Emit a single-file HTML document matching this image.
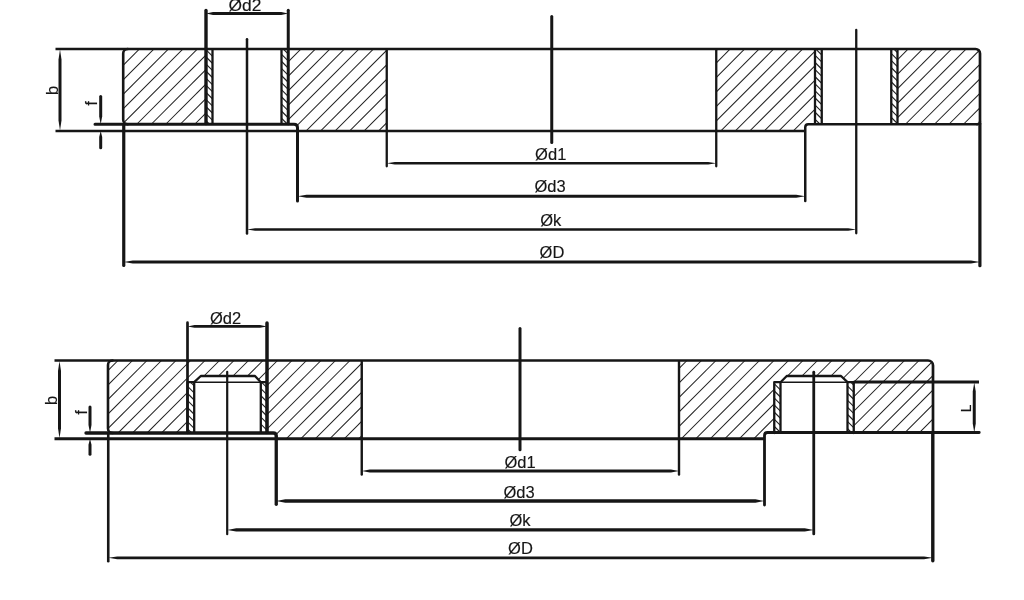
<!DOCTYPE html>
<html><head><meta charset="utf-8"><title>Flange dimensions</title>
<style>
html,body{margin:0;padding:0;background:#fff;}
body{width:1024px;height:600px;overflow:hidden;}
svg{display:block;font-family:"Liberation Sans",sans-serif;}
svg{filter:grayscale(1);}
</style></head><body>
<svg width="1024" height="600" viewBox="0 0 1024 600">
<rect width="1024" height="600" fill="#fff"/>
<defs><clipPath id="c1"><path d="M127.7,49 H205.75 V124.25 H127.7 A4.5,4.5 0 0 1 123.2,119.75 V53.5 A4.5,4.5 0 0 1 127.7,49 Z"/></clipPath><clipPath id="c2"><path d="M288.25,49 H386.75 V131 H297.5 V124.25 H288.25 Z"/></clipPath><clipPath id="c3"><path d="M716.25,49 H815 V124.25 H805.25 V131 H716.25 Z"/></clipPath><clipPath id="c4"><path d="M897.5,49 H975.5 A4.5,4.5 0 0 1 980,53.5 V121.25 A3,3 0 0 1 977,124.25 H897.5 Z"/></clipPath><clipPath id="c5"><path d="M205.75,49 H212.5 V124.25 H205.75 Z"/></clipPath><clipPath id="c6"><path d="M281.5,49 H288.25 V124.25 H281.5 Z"/></clipPath><clipPath id="c7"><path d="M815,49 H821.75 V124.25 H815 Z"/></clipPath><clipPath id="c8"><path d="M891.25,49 H897.5 V124.25 H891.25 Z"/></clipPath><clipPath id="c9"><path d="M112.5,360.5 H361.75 V438.75 H276.25 V433 H112.5 A4.5,4.5 0 0 1 108,428.5 V365.0 A4.5,4.5 0 0 1 112.5,360.5 Z M187.5,433 V382.2 H194.2 L200.8,376 H255 L260.8,382.2 H267 V433 Z" clip-rule="evenodd"/></clipPath><clipPath id="c10"><path d="M679,360.5 H928 A5,5 0 0 1 933,365.5 V433 H764.5 V438.75 H679 Z M774.25,433 V382.2 H780.5 L786.75,376 H841 L847.5,382.2 H853.75 V433 Z" clip-rule="evenodd"/></clipPath><clipPath id="c11"><path d="M187.5,382.2 H194.2 V433 H187.5 Z"/></clipPath><clipPath id="c12"><path d="M260.8,382.2 H267 V433 H260.8 Z"/></clipPath><clipPath id="c13"><path d="M774.25,382.2 H780.5 V433 H774.25 Z"/></clipPath><clipPath id="c14"><path d="M847.5,382.2 H853.75 V433 H847.5 Z"/></clipPath></defs>
<g clip-path="url(#c1)" stroke="#1e1e1c" stroke-width="1.05"><line x1="110.50" y1="49" x2="35.25" y2="124.25"/><line x1="125.00" y1="49" x2="49.75" y2="124.25"/><line x1="139.50" y1="49" x2="64.25" y2="124.25"/><line x1="154.00" y1="49" x2="78.75" y2="124.25"/><line x1="168.50" y1="49" x2="93.25" y2="124.25"/><line x1="183.00" y1="49" x2="107.75" y2="124.25"/><line x1="197.50" y1="49" x2="122.25" y2="124.25"/><line x1="212.00" y1="49" x2="136.75" y2="124.25"/><line x1="226.50" y1="49" x2="151.25" y2="124.25"/><line x1="241.00" y1="49" x2="165.75" y2="124.25"/><line x1="255.50" y1="49" x2="180.25" y2="124.25"/><line x1="270.00" y1="49" x2="194.75" y2="124.25"/><line x1="284.50" y1="49" x2="209.25" y2="124.25"/></g>
<g clip-path="url(#c2)" stroke="#1e1e1c" stroke-width="1.05"><line x1="286.50" y1="49" x2="204.50" y2="131"/><line x1="301.00" y1="49" x2="219.00" y2="131"/><line x1="315.50" y1="49" x2="233.50" y2="131"/><line x1="330.00" y1="49" x2="248.00" y2="131"/><line x1="344.50" y1="49" x2="262.50" y2="131"/><line x1="359.00" y1="49" x2="277.00" y2="131"/><line x1="373.50" y1="49" x2="291.50" y2="131"/><line x1="388.00" y1="49" x2="306.00" y2="131"/><line x1="402.50" y1="49" x2="320.50" y2="131"/><line x1="417.00" y1="49" x2="335.00" y2="131"/><line x1="431.50" y1="49" x2="349.50" y2="131"/><line x1="446.00" y1="49" x2="364.00" y2="131"/><line x1="460.50" y1="49" x2="378.50" y2="131"/><line x1="475.00" y1="49" x2="393.00" y2="131"/></g>
<g clip-path="url(#c3)" stroke="#1e1e1c" stroke-width="1.05"><line x1="715.70" y1="49" x2="633.70" y2="131"/><line x1="730.20" y1="49" x2="648.20" y2="131"/><line x1="744.70" y1="49" x2="662.70" y2="131"/><line x1="759.20" y1="49" x2="677.20" y2="131"/><line x1="773.70" y1="49" x2="691.70" y2="131"/><line x1="788.20" y1="49" x2="706.20" y2="131"/><line x1="802.70" y1="49" x2="720.70" y2="131"/><line x1="817.20" y1="49" x2="735.20" y2="131"/><line x1="831.70" y1="49" x2="749.70" y2="131"/><line x1="846.20" y1="49" x2="764.20" y2="131"/><line x1="860.70" y1="49" x2="778.70" y2="131"/><line x1="875.20" y1="49" x2="793.20" y2="131"/><line x1="889.70" y1="49" x2="807.70" y2="131"/><line x1="904.20" y1="49" x2="822.20" y2="131"/></g>
<g clip-path="url(#c4)" stroke="#1e1e1c" stroke-width="1.05"><line x1="893.70" y1="49" x2="818.45" y2="124.25"/><line x1="908.20" y1="49" x2="832.95" y2="124.25"/><line x1="922.70" y1="49" x2="847.45" y2="124.25"/><line x1="937.20" y1="49" x2="861.95" y2="124.25"/><line x1="951.70" y1="49" x2="876.45" y2="124.25"/><line x1="966.20" y1="49" x2="890.95" y2="124.25"/><line x1="980.70" y1="49" x2="905.45" y2="124.25"/><line x1="995.20" y1="49" x2="919.95" y2="124.25"/><line x1="1009.70" y1="49" x2="934.45" y2="124.25"/><line x1="1024.20" y1="49" x2="948.95" y2="124.25"/><line x1="1038.70" y1="49" x2="963.45" y2="124.25"/><line x1="1053.20" y1="49" x2="977.95" y2="124.25"/><line x1="1067.70" y1="49" x2="992.45" y2="124.25"/></g>
<g clip-path="url(#c5)" stroke="#1e1e1c" stroke-width="1.1"><line x1="127.10" y1="49" x2="202.35" y2="124.25"/><line x1="134.20" y1="49" x2="209.45" y2="124.25"/><line x1="141.30" y1="49" x2="216.55" y2="124.25"/><line x1="148.40" y1="49" x2="223.65" y2="124.25"/><line x1="155.50" y1="49" x2="230.75" y2="124.25"/><line x1="162.60" y1="49" x2="237.85" y2="124.25"/><line x1="169.70" y1="49" x2="244.95" y2="124.25"/><line x1="176.80" y1="49" x2="252.05" y2="124.25"/><line x1="183.90" y1="49" x2="259.15" y2="124.25"/><line x1="191.00" y1="49" x2="266.25" y2="124.25"/><line x1="198.10" y1="49" x2="273.35" y2="124.25"/><line x1="205.20" y1="49" x2="280.45" y2="124.25"/><line x1="212.30" y1="49" x2="287.55" y2="124.25"/><line x1="219.40" y1="49" x2="294.65" y2="124.25"/></g>
<g clip-path="url(#c6)" stroke="#1e1e1c" stroke-width="1.1"><line x1="205.20" y1="49" x2="280.45" y2="124.25"/><line x1="212.30" y1="49" x2="287.55" y2="124.25"/><line x1="219.40" y1="49" x2="294.65" y2="124.25"/><line x1="226.50" y1="49" x2="301.75" y2="124.25"/><line x1="233.60" y1="49" x2="308.85" y2="124.25"/><line x1="240.70" y1="49" x2="315.95" y2="124.25"/><line x1="247.80" y1="49" x2="323.05" y2="124.25"/><line x1="254.90" y1="49" x2="330.15" y2="124.25"/><line x1="262.00" y1="49" x2="337.25" y2="124.25"/><line x1="269.10" y1="49" x2="344.35" y2="124.25"/><line x1="276.20" y1="49" x2="351.45" y2="124.25"/><line x1="283.30" y1="49" x2="358.55" y2="124.25"/><line x1="290.40" y1="49" x2="365.65" y2="124.25"/></g>
<g clip-path="url(#c7)" stroke="#1e1e1c" stroke-width="1.1"><line x1="737.70" y1="49" x2="812.95" y2="124.25"/><line x1="744.80" y1="49" x2="820.05" y2="124.25"/><line x1="751.90" y1="49" x2="827.15" y2="124.25"/><line x1="759.00" y1="49" x2="834.25" y2="124.25"/><line x1="766.10" y1="49" x2="841.35" y2="124.25"/><line x1="773.20" y1="49" x2="848.45" y2="124.25"/><line x1="780.30" y1="49" x2="855.55" y2="124.25"/><line x1="787.40" y1="49" x2="862.65" y2="124.25"/><line x1="794.50" y1="49" x2="869.75" y2="124.25"/><line x1="801.60" y1="49" x2="876.85" y2="124.25"/><line x1="808.70" y1="49" x2="883.95" y2="124.25"/><line x1="815.80" y1="49" x2="891.05" y2="124.25"/><line x1="822.90" y1="49" x2="898.15" y2="124.25"/></g>
<g clip-path="url(#c8)" stroke="#1e1e1c" stroke-width="1.1"><line x1="815.80" y1="49" x2="891.05" y2="124.25"/><line x1="822.90" y1="49" x2="898.15" y2="124.25"/><line x1="830.00" y1="49" x2="905.25" y2="124.25"/><line x1="837.10" y1="49" x2="912.35" y2="124.25"/><line x1="844.20" y1="49" x2="919.45" y2="124.25"/><line x1="851.30" y1="49" x2="926.55" y2="124.25"/><line x1="858.40" y1="49" x2="933.65" y2="124.25"/><line x1="865.50" y1="49" x2="940.75" y2="124.25"/><line x1="872.60" y1="49" x2="947.85" y2="124.25"/><line x1="879.70" y1="49" x2="954.95" y2="124.25"/><line x1="886.80" y1="49" x2="962.05" y2="124.25"/><line x1="893.90" y1="49" x2="969.15" y2="124.25"/><line x1="901.00" y1="49" x2="976.25" y2="124.25"/></g>
<path d="M55.5,49 H975.5 A4.5,4.5 0 0 1 980,53.5 V124.25" stroke="#161614" stroke-width="2.6999999999999997" fill="none" stroke-linejoin="round" stroke-linecap="butt"/>
<line x1="979.9" y1="123.85" x2="979.9" y2="265.7" stroke="#161614" stroke-width="3.1999999999999997" stroke-linecap="round"/>
<line x1="55.5" y1="131" x2="805.25" y2="131" stroke="#161614" stroke-width="2.6999999999999997" stroke-linecap="butt"/>
<path d="M95,124.25 H294 Q297.5,124.25 297.5,127.75 V201" stroke="#161614" stroke-width="3.0" fill="none" stroke-linejoin="round" stroke-linecap="round"/>
<path d="M977,124.25 H808.25 Q805.25,124.25 805.25,127.25 V201" stroke="#161614" stroke-width="2.5" fill="none" stroke-linejoin="round" stroke-linecap="round"/>
<path d="M977,124.25 Q980,124.25 980,121.25" stroke="#161614" stroke-width="2.3" fill="none" stroke-linejoin="round" stroke-linecap="round"/>
<path d="M127.7,49 A4.5,4.5 0 0 0 123.2,53.5 V119.75 A4.5,4.5 0 0 0 127.7,124.25" stroke="#161614" stroke-width="2.5999999999999996" fill="none" stroke-linejoin="round" stroke-linecap="round"/>
<line x1="123.75" y1="124.85" x2="123.75" y2="265.4" stroke="#161614" stroke-width="3.1999999999999997" stroke-linecap="round"/>
<line x1="206" y1="10.45" x2="206" y2="123.55" stroke="#161614" stroke-width="3.4" stroke-linecap="round"/>
<line x1="288.25" y1="10.25" x2="288.25" y2="123.75" stroke="#161614" stroke-width="3.0" stroke-linecap="round"/>
<line x1="212.5" y1="49" x2="212.5" y2="124.25" stroke="#161614" stroke-width="2.3" stroke-linecap="butt"/>
<line x1="281.5" y1="49" x2="281.5" y2="124.25" stroke="#161614" stroke-width="2.3" stroke-linecap="butt"/>
<line x1="247" y1="39.25" x2="247" y2="233.45" stroke="#161614" stroke-width="2.5" stroke-linecap="round"/>
<line x1="386.75" y1="50.15" x2="386.75" y2="166.35" stroke="#161614" stroke-width="2.3" stroke-linecap="round"/>
<line x1="551.75" y1="16.5" x2="551.75" y2="142.5" stroke="#161614" stroke-width="3.0" stroke-linecap="round"/>
<line x1="716.25" y1="50.15" x2="716.25" y2="166.35" stroke="#161614" stroke-width="2.3" stroke-linecap="round"/>
<line x1="815" y1="49" x2="815" y2="124.25" stroke="#161614" stroke-width="2.3" stroke-linecap="butt"/>
<line x1="821.75" y1="49" x2="821.75" y2="124.25" stroke="#161614" stroke-width="2.3" stroke-linecap="butt"/>
<line x1="891.25" y1="49" x2="891.25" y2="124.25" stroke="#161614" stroke-width="2.3" stroke-linecap="butt"/>
<line x1="897.5" y1="49" x2="897.5" y2="124.25" stroke="#161614" stroke-width="2.3" stroke-linecap="butt"/>
<line x1="856.25" y1="29.9" x2="856.25" y2="233.35" stroke="#161614" stroke-width="2.3" stroke-linecap="round"/>
<path d="M206,13.5 L213,11.9 L281.25,11.9 L288.25,13.5 L281.25,15.1 L213,15.1 Z" fill="#161614"/>
<path d="M386.75,163.25 L394.75,162.0 L708.25,162.0 L716.25,163.25 L708.25,164.5 L394.75,164.5 Z" fill="#161614"/>
<path d="M297.5,196.25 L306.5,194.7 L796.25,194.7 L805.25,196.25 L796.25,197.8 L306.5,197.8 Z" fill="#161614"/>
<path d="M247,229.4 L255,228.15 L848.25,228.15 L856.25,229.4 L848.25,230.65 L255,230.65 Z" fill="#161614"/>
<path d="M123.75,262 L132.75,260.4 L971,260.4 L980,262 L971,263.6 L132.75,263.6 Z" fill="#161614"/>
<path d="M60,49.5 L58.5,59.5 L58.5,120.5 L60,130.5 L61.5,120.5 L61.5,59.5 Z" fill="#161614"/>
<path d="M99.2,96.5 A1.5,1.5 0 0 1 102.2,96.5 L102.2,116.25 L100.7,124.25 L99.2,116.25 Z" fill="#161614"/>
<path d="M100.7,131 L102.2,137 L102.2,147.8 A1.5,1.5 0 0 1 99.2,147.8 L99.2,137 Z" fill="#161614"/>
<text transform="translate(245 10.9) rotate(0) scale(1.0 1)" font-size="17.4" text-anchor="middle" fill="#161614" stroke="#161614" stroke-width="0.15">Ød2</text>
<text transform="translate(550.7 160) rotate(0) scale(0.95 1)" font-size="17.4" text-anchor="middle" fill="#161614" stroke="#161614" stroke-width="0.15">Ød1</text>
<text transform="translate(550 192.3) rotate(0) scale(0.95 1)" font-size="17.4" text-anchor="middle" fill="#161614" stroke="#161614" stroke-width="0.15">Ød3</text>
<text transform="translate(550.8 226.25) rotate(0) scale(0.95 1)" font-size="17.4" text-anchor="middle" fill="#161614" stroke="#161614" stroke-width="0.15">Øk</text>
<text transform="translate(552 258) rotate(0) scale(0.95 1)" font-size="17.4" text-anchor="middle" fill="#161614" stroke="#161614" stroke-width="0.15">ØD</text>
<text transform="translate(58 90.3) rotate(-90) scale(0.95 1)" font-size="17.4" text-anchor="middle" fill="#161614" stroke="#161614" stroke-width="0.15">b</text>
<text transform="translate(97 103.4) rotate(-90) scale(0.95 1)" font-size="17.4" text-anchor="middle" fill="#161614" stroke="#161614" stroke-width="0.15">f</text>
<g clip-path="url(#c9)" stroke="#1e1e1c" stroke-width="1.05"><line x1="103.50" y1="360.5" x2="25.25" y2="438.75"/><line x1="118.00" y1="360.5" x2="39.75" y2="438.75"/><line x1="132.50" y1="360.5" x2="54.25" y2="438.75"/><line x1="147.00" y1="360.5" x2="68.75" y2="438.75"/><line x1="161.50" y1="360.5" x2="83.25" y2="438.75"/><line x1="176.00" y1="360.5" x2="97.75" y2="438.75"/><line x1="190.50" y1="360.5" x2="112.25" y2="438.75"/><line x1="205.00" y1="360.5" x2="126.75" y2="438.75"/><line x1="219.50" y1="360.5" x2="141.25" y2="438.75"/><line x1="234.00" y1="360.5" x2="155.75" y2="438.75"/><line x1="248.50" y1="360.5" x2="170.25" y2="438.75"/><line x1="263.00" y1="360.5" x2="184.75" y2="438.75"/><line x1="277.50" y1="360.5" x2="199.25" y2="438.75"/><line x1="292.00" y1="360.5" x2="213.75" y2="438.75"/><line x1="306.50" y1="360.5" x2="228.25" y2="438.75"/><line x1="321.00" y1="360.5" x2="242.75" y2="438.75"/><line x1="335.50" y1="360.5" x2="257.25" y2="438.75"/><line x1="350.00" y1="360.5" x2="271.75" y2="438.75"/><line x1="364.50" y1="360.5" x2="286.25" y2="438.75"/><line x1="379.00" y1="360.5" x2="300.75" y2="438.75"/><line x1="393.50" y1="360.5" x2="315.25" y2="438.75"/><line x1="408.00" y1="360.5" x2="329.75" y2="438.75"/><line x1="422.50" y1="360.5" x2="344.25" y2="438.75"/><line x1="437.00" y1="360.5" x2="358.75" y2="438.75"/><line x1="451.50" y1="360.5" x2="373.25" y2="438.75"/></g>
<g clip-path="url(#c10)" stroke="#1e1e1c" stroke-width="1.05"><line x1="672.50" y1="360.5" x2="594.25" y2="438.75"/><line x1="687.00" y1="360.5" x2="608.75" y2="438.75"/><line x1="701.50" y1="360.5" x2="623.25" y2="438.75"/><line x1="716.00" y1="360.5" x2="637.75" y2="438.75"/><line x1="730.50" y1="360.5" x2="652.25" y2="438.75"/><line x1="745.00" y1="360.5" x2="666.75" y2="438.75"/><line x1="759.50" y1="360.5" x2="681.25" y2="438.75"/><line x1="774.00" y1="360.5" x2="695.75" y2="438.75"/><line x1="788.50" y1="360.5" x2="710.25" y2="438.75"/><line x1="803.00" y1="360.5" x2="724.75" y2="438.75"/><line x1="817.50" y1="360.5" x2="739.25" y2="438.75"/><line x1="832.00" y1="360.5" x2="753.75" y2="438.75"/><line x1="846.50" y1="360.5" x2="768.25" y2="438.75"/><line x1="861.00" y1="360.5" x2="782.75" y2="438.75"/><line x1="875.50" y1="360.5" x2="797.25" y2="438.75"/><line x1="890.00" y1="360.5" x2="811.75" y2="438.75"/><line x1="904.50" y1="360.5" x2="826.25" y2="438.75"/><line x1="919.00" y1="360.5" x2="840.75" y2="438.75"/><line x1="933.50" y1="360.5" x2="855.25" y2="438.75"/><line x1="948.00" y1="360.5" x2="869.75" y2="438.75"/><line x1="962.50" y1="360.5" x2="884.25" y2="438.75"/><line x1="977.00" y1="360.5" x2="898.75" y2="438.75"/><line x1="991.50" y1="360.5" x2="913.25" y2="438.75"/><line x1="1006.00" y1="360.5" x2="927.75" y2="438.75"/><line x1="1020.50" y1="360.5" x2="942.25" y2="438.75"/></g>
<g clip-path="url(#c11)" stroke="#1e1e1c" stroke-width="1.1"><line x1="133.70" y1="382.2" x2="184.50" y2="433"/><line x1="140.80" y1="382.2" x2="191.60" y2="433"/><line x1="147.90" y1="382.2" x2="198.70" y2="433"/><line x1="155.00" y1="382.2" x2="205.80" y2="433"/><line x1="162.10" y1="382.2" x2="212.90" y2="433"/><line x1="169.20" y1="382.2" x2="220.00" y2="433"/><line x1="176.30" y1="382.2" x2="227.10" y2="433"/><line x1="183.40" y1="382.2" x2="234.20" y2="433"/><line x1="190.50" y1="382.2" x2="241.30" y2="433"/><line x1="197.60" y1="382.2" x2="248.40" y2="433"/></g>
<g clip-path="url(#c12)" stroke="#1e1e1c" stroke-width="1.1"><line x1="204.70" y1="382.2" x2="255.50" y2="433"/><line x1="211.80" y1="382.2" x2="262.60" y2="433"/><line x1="218.90" y1="382.2" x2="269.70" y2="433"/><line x1="226.00" y1="382.2" x2="276.80" y2="433"/><line x1="233.10" y1="382.2" x2="283.90" y2="433"/><line x1="240.20" y1="382.2" x2="291.00" y2="433"/><line x1="247.30" y1="382.2" x2="298.10" y2="433"/><line x1="254.40" y1="382.2" x2="305.20" y2="433"/><line x1="261.50" y1="382.2" x2="312.30" y2="433"/><line x1="268.60" y1="382.2" x2="319.40" y2="433"/></g>
<g clip-path="url(#c13)" stroke="#1e1e1c" stroke-width="1.1"><line x1="723.00" y1="382.2" x2="773.80" y2="433"/><line x1="730.10" y1="382.2" x2="780.90" y2="433"/><line x1="737.20" y1="382.2" x2="788.00" y2="433"/><line x1="744.30" y1="382.2" x2="795.10" y2="433"/><line x1="751.40" y1="382.2" x2="802.20" y2="433"/><line x1="758.50" y1="382.2" x2="809.30" y2="433"/><line x1="765.60" y1="382.2" x2="816.40" y2="433"/><line x1="772.70" y1="382.2" x2="823.50" y2="433"/><line x1="779.80" y1="382.2" x2="830.60" y2="433"/><line x1="786.90" y1="382.2" x2="837.70" y2="433"/></g>
<g clip-path="url(#c14)" stroke="#1e1e1c" stroke-width="1.1"><line x1="794.00" y1="382.2" x2="844.80" y2="433"/><line x1="801.10" y1="382.2" x2="851.90" y2="433"/><line x1="808.20" y1="382.2" x2="859.00" y2="433"/><line x1="815.30" y1="382.2" x2="866.10" y2="433"/><line x1="822.40" y1="382.2" x2="873.20" y2="433"/><line x1="829.50" y1="382.2" x2="880.30" y2="433"/><line x1="836.60" y1="382.2" x2="887.40" y2="433"/><line x1="843.70" y1="382.2" x2="894.50" y2="433"/><line x1="850.80" y1="382.2" x2="901.60" y2="433"/><line x1="857.90" y1="382.2" x2="908.70" y2="433"/></g>
<path d="M54.5,360.5 H928 A5,5 0 0 1 933,365.5 V433" stroke="#161614" stroke-width="2.6999999999999997" fill="none" stroke-linejoin="round" stroke-linecap="butt"/>
<line x1="932.8" y1="432.7" x2="932.8" y2="560.8" stroke="#161614" stroke-width="3.4" stroke-linecap="round"/>
<line x1="54.5" y1="438.75" x2="764.5" y2="438.75" stroke="#161614" stroke-width="3.0" stroke-linecap="butt"/>
<path d="M86,433 H273.25 Q276.25,433 276.25,436" stroke="#161614" stroke-width="3.3" fill="none" stroke-linejoin="round" stroke-linecap="round"/>
<line x1="276.25" y1="436.65" x2="276.25" y2="504.35" stroke="#161614" stroke-width="3.3" stroke-linecap="round"/>
<path d="M979.25,432.5 H767.5 Q764.5,432.5 764.5,435.5 V505" stroke="#161614" stroke-width="2.8" fill="none" stroke-linejoin="round" stroke-linecap="round"/>
<path d="M112.5,360.5 A4.5,4.5 0 0 0 108,365.0 V428.5 A4.5,4.5 0 0 0 112.5,433" stroke="#161614" stroke-width="2.5999999999999996" fill="none" stroke-linejoin="round" stroke-linecap="round"/>
<line x1="108.25" y1="433.3" x2="108.25" y2="561.2" stroke="#161614" stroke-width="2.5999999999999996" stroke-linecap="round"/>
<line x1="194.2" y1="382.2" x2="260.8" y2="382.2" stroke="#161614" stroke-width="1.6" stroke-linecap="butt"/>
<path d="M187.5,433 V382.2 H194.2 L200.8,376 H255 L260.8,382.2 H267 V433" stroke="#161614" stroke-width="2.3" fill="none" stroke-linejoin="round" stroke-linecap="round"/>
<line x1="194.2" y1="382.2" x2="194.2" y2="433" stroke="#161614" stroke-width="2.3" stroke-linecap="butt"/>
<line x1="260.8" y1="382.2" x2="260.8" y2="433" stroke="#161614" stroke-width="2.3" stroke-linecap="butt"/>
<line x1="227.2" y1="371.90000000000003" x2="227.2" y2="534.1999999999999" stroke="#161614" stroke-width="2.1999999999999997" stroke-linecap="round"/>
<line x1="780.5" y1="382.2" x2="847.5" y2="382.2" stroke="#161614" stroke-width="1.6" stroke-linecap="butt"/>
<path d="M774.25,433 V382.2 H780.5 L786.75,376 H841 L847.5,382.2 H853.75 V433" stroke="#161614" stroke-width="2.3" fill="none" stroke-linejoin="round" stroke-linecap="round"/>
<line x1="780.5" y1="382.2" x2="780.5" y2="433" stroke="#161614" stroke-width="2.3" stroke-linecap="butt"/>
<line x1="847.5" y1="382.2" x2="847.5" y2="433" stroke="#161614" stroke-width="2.3" stroke-linecap="butt"/>
<line x1="813.75" y1="372.2" x2="813.75" y2="533.9" stroke="#161614" stroke-width="2.8" stroke-linecap="round"/>
<line x1="187.5" y1="322.65000000000003" x2="187.5" y2="432.65" stroke="#161614" stroke-width="2.6999999999999997" stroke-linecap="round"/>
<line x1="267" y1="323.05" x2="267" y2="432.25" stroke="#161614" stroke-width="3.5" stroke-linecap="round"/>
<line x1="361.75" y1="361.7" x2="361.75" y2="474.55" stroke="#161614" stroke-width="2.4" stroke-linecap="round"/>
<line x1="520" y1="328.5" x2="520" y2="449.75" stroke="#161614" stroke-width="3.0" stroke-linecap="round"/>
<line x1="679" y1="361.7" x2="679" y2="474.55" stroke="#161614" stroke-width="2.4" stroke-linecap="round"/>
<line x1="853.75" y1="382" x2="979" y2="382" stroke="#161614" stroke-width="2.8" stroke-linecap="butt"/>
<path d="M974.25,382.5 L972.75,391.5 L972.75,423.5 L974.25,432.5 L975.75,423.5 L975.75,391.5 Z" fill="#161614"/>
<path d="M187.5,326.4 L194.5,324.95 L260,324.95 L267,326.4 L260,327.84999999999997 L194.5,327.84999999999997 Z" fill="#161614"/>
<path d="M361.75,470.9 L369.75,469.4 L671,469.4 L679,470.9 L671,472.4 L369.75,472.4 Z" fill="#161614"/>
<path d="M276.25,501 L285.25,499.3 L755.5,499.3 L764.5,501 L755.5,502.7 L285.25,502.7 Z" fill="#161614"/>
<path d="M227.2,529.9 L236.2,528.3 L804.75,528.3 L813.75,529.9 L804.75,531.5 L236.2,531.5 Z" fill="#161614"/>
<path d="M108.25,557.8 L117.25,556.4499999999999 L924,556.4499999999999 L933,557.8 L924,559.15 L117.25,559.15 Z" fill="#161614"/>
<path d="M59.5,361.0 L58.0,371.0 L58.0,428.25 L59.5,438.25 L61.0,428.25 L61.0,371.0 Z" fill="#161614"/>
<path d="M88.5,407.0 A1.5,1.5 0 0 1 91.5,407.0 L91.5,425 L90,433 L88.5,425 Z" fill="#161614"/>
<path d="M90,438.75 L91.5,444.75 L91.5,454.2 A1.5,1.5 0 0 1 88.5,454.2 L88.5,444.75 Z" fill="#161614"/>
<text transform="translate(225.5 323.75) rotate(0) scale(0.95 1)" font-size="17.4" text-anchor="middle" fill="#161614" stroke="#161614" stroke-width="0.15">Ød2</text>
<text transform="translate(520 467.5) rotate(0) scale(0.95 1)" font-size="17.4" text-anchor="middle" fill="#161614" stroke="#161614" stroke-width="0.15">Ød1</text>
<text transform="translate(519 497.5) rotate(0) scale(0.95 1)" font-size="17.4" text-anchor="middle" fill="#161614" stroke="#161614" stroke-width="0.15">Ød3</text>
<text transform="translate(520 526.25) rotate(0) scale(0.95 1)" font-size="17.4" text-anchor="middle" fill="#161614" stroke="#161614" stroke-width="0.15">Øk</text>
<text transform="translate(520.5 554.25) rotate(0) scale(0.95 1)" font-size="17.4" text-anchor="middle" fill="#161614" stroke="#161614" stroke-width="0.15">ØD</text>
<text transform="translate(56.5 400.5) rotate(-90) scale(0.95 1)" font-size="17.4" text-anchor="middle" fill="#161614" stroke="#161614" stroke-width="0.15">b</text>
<text transform="translate(87 412.5) rotate(-90) scale(0.95 1)" font-size="17.4" text-anchor="middle" fill="#161614" stroke="#161614" stroke-width="0.15">f</text>
<text transform="translate(971.4 408.5) rotate(-90) scale(0.95 1)" font-size="14.6" text-anchor="middle" fill="#161614" stroke="#161614" stroke-width="0.15">L</text>
</svg>
</body></html>
